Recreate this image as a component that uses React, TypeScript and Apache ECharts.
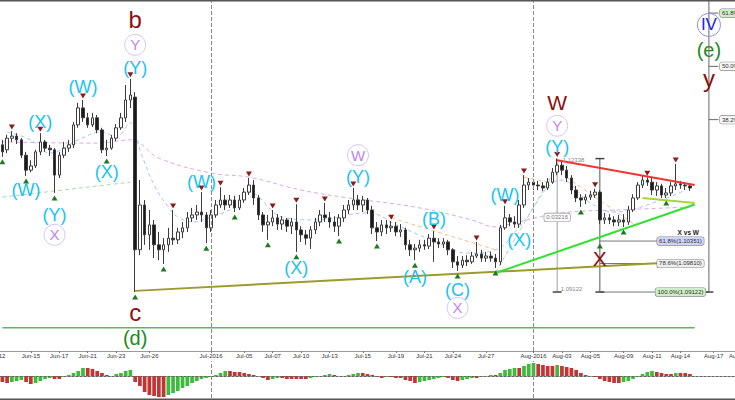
import React, { useEffect, useRef } from 'react';
import * as echarts from 'echarts';

const FONT = '"Liberation Sans", Arial, sans-serif';

// EUR/USD, one candle per slot: [open, close, low, high]
const candles = [
[1.1267,1.1250,1.1238,1.1279],[1.1255,1.1283,1.1247,1.1291],[1.1283,1.1288,1.1274,1.1300],[1.1288,1.1279,1.1269,1.1295],[1.1279,1.1242,1.1235,1.1283],
[1.1242,1.1206,1.1192,1.1250],[1.1206,1.1216,1.1201,1.1230],[1.1216,1.1250,1.1211,1.1255],[1.1250,1.1274,1.1242,1.1295],[1.1274,1.1259,1.1250,1.1279],
[1.1259,1.1255,1.1240,1.1267],[1.1255,1.1194,1.1151,1.1259],[1.1194,1.1242,1.1187,1.1250],[1.1242,1.1259,1.1235,1.1274],[1.1259,1.1267,1.1250,1.1279],
[1.1267,1.1315,1.1259,1.1322],[1.1315,1.1356,1.1308,1.1368],[1.1356,1.1332,1.1322,1.1375],[1.1332,1.1315,1.1308,1.1344],[1.1315,1.1332,1.1310,1.1344],
[1.1332,1.1303,1.1295,1.1339],[1.1303,1.1255,1.1247,1.1308],[1.1255,1.1259,1.1240,1.1279],[1.1259,1.1283,1.1255,1.1291],[1.1283,1.1308,1.1276,1.1317],
[1.1308,1.1332,1.1303,1.1344],[1.1332,1.1375,1.1322,1.1411],[1.1375,1.1387,1.1356,1.1426],[1.1382,1.1014,1.0912,1.1394],[1.1014,1.1122,1.1001,1.1182],
[1.1122,1.1050,1.1026,1.1134],[1.1050,1.1074,1.1014,1.1110],[1.1074,1.1026,1.0994,1.1086],[1.1026,1.1014,1.0989,1.1057],[1.1014,1.1026,1.0980,1.1042],
[1.1026,1.1042,1.1009,1.1067],[1.1042,1.1038,1.1026,1.1110],[1.1038,1.1057,1.1028,1.1067],[1.1057,1.1067,1.1042,1.1081],[1.1067,1.1091,1.1057,1.1105],
[1.1091,1.1098,1.1081,1.1115],[1.1098,1.1105,1.1086,1.1122],[1.1105,1.1098,1.1081,1.1153],[1.1098,1.1067,1.1030,1.1105],[1.1067,1.1098,1.1057,1.1110],
[1.1098,1.1122,1.1091,1.1134],[1.1122,1.1134,1.1115,1.1165],[1.1134,1.1122,1.1110,1.1146],[1.1122,1.1134,1.1115,1.1146],[1.1134,1.1115,1.1105,1.1144],
[1.1115,1.1134,1.1110,1.1146],[1.1134,1.1153,1.1127,1.1163],[1.1153,1.1170,1.1146,1.1187],[1.1170,1.1139,1.1122,1.1182],[1.1139,1.1098,1.1086,1.1146],
[1.1098,1.1074,1.1057,1.1105],[1.1074,1.1081,1.1038,1.1098],[1.1081,1.1091,1.1071,1.1110],[1.1091,1.1076,1.1062,1.1100],[1.1076,1.1086,1.1062,1.1095],
[1.1086,1.1071,1.1057,1.1091],[1.1071,1.1081,1.1052,1.1091],[1.1081,1.1062,1.1009,1.1124],[1.1062,1.1050,1.1033,1.1071],[1.1050,1.1042,1.1026,1.1062],
[1.1042,1.1062,1.1016,1.1071],[1.1062,1.1081,1.1052,1.1091],[1.1081,1.1098,1.1071,1.1110],[1.1098,1.1091,1.1081,1.1127],[1.1091,1.1081,1.1067,1.1105],
[1.1081,1.1071,1.1057,1.1095],[1.1071,1.1091,1.1047,1.1100],[1.1091,1.1110,1.1081,1.1122],[1.1110,1.1122,1.1100,1.1134],[1.1122,1.1134,1.1110,1.1163],
[1.1134,1.1122,1.1110,1.1146],[1.1122,1.1134,1.1105,1.1144],[1.1134,1.1110,1.1100,1.1139],[1.1110,1.1067,1.1052,1.1120],[1.1067,1.1057,1.1035,1.1081],
[1.1057,1.1074,1.1047,1.1086],[1.1074,1.1067,1.1052,1.1086],[1.1067,1.1071,1.1057,1.1083],[1.1071,1.1057,1.1047,1.1081],[1.1057,1.1062,1.1045,1.1076],
[1.1062,1.1026,1.1014,1.1067],[1.1026,1.1014,1.0999,1.1038],[1.1014,1.1018,1.0989,1.1028],[1.1018,1.1026,1.1009,1.1038],[1.1026,1.1023,1.1014,1.1038],
[1.1023,1.1042,1.1016,1.1052],[1.1042,1.1033,1.0985,1.1059],[1.1033,1.1028,1.1018,1.1042],[1.1028,1.1033,1.1018,1.1042],[1.1033,1.1014,1.1001,1.1038],
[1.1014,1.0985,1.0970,1.1018],[1.0985,1.0977,1.0963,1.0999],[1.0977,1.0989,1.0970,1.0999],[1.0989,1.0985,1.0975,1.1001],[1.0985,1.0999,1.0980,1.1009],
[1.0999,1.1004,1.0994,1.1033],[1.1004,1.0994,1.0985,1.1014],[1.0994,1.0999,1.0985,1.1009],[1.0999,1.0994,1.0985,1.1009],[1.0994,1.0985,1.0970,1.1004],
[1.0985,1.1067,1.0977,1.1074],[1.1067,1.1091,1.1062,1.1120],[1.1091,1.1081,1.1071,1.1100],[1.1081,1.1076,1.1067,1.1095],[1.1076,1.1122,1.1067,1.1134],
[1.1122,1.1170,1.1115,1.1194],[1.1170,1.1177,1.1158,1.1187],[1.1177,1.1170,1.1158,1.1182],[1.1170,1.1168,1.1158,1.1180],[1.1168,1.1163,1.1156,1.1177],
[1.1163,1.1177,1.1158,1.1187],[1.1177,1.1201,1.1173,1.1211],[1.1201,1.1218,1.1194,1.1234],[1.1218,1.1206,1.1194,1.1226],[1.1206,1.1187,1.1177,1.1216],
[1.1187,1.1158,1.1148,1.1194],[1.1158,1.1139,1.1129,1.1168],[1.1139,1.1134,1.1117,1.1148],[1.1134,1.1141,1.1124,1.1148],[1.1141,1.1146,1.1134,1.1156],
[1.1146,1.1153,1.1139,1.1161],[1.1153,1.1086,1.1076,1.1158],[1.1086,1.1091,1.1076,1.1103],[1.1091,1.1086,1.1076,1.1100],[1.1086,1.1081,1.1071,1.1095],
[1.1081,1.1086,1.1071,1.1098],[1.1086,1.1081,1.1069,1.1100],[1.1081,1.1110,1.1074,1.1120],[1.1110,1.1139,1.1105,1.1148],[1.1139,1.1170,1.1134,1.1177],
[1.1170,1.1182,1.1163,1.1192],[1.1182,1.1177,1.1168,1.1189],[1.1177,1.1158,1.1146,1.1187],[1.1158,1.1168,1.1144,1.1177],[1.1168,1.1146,1.1139,1.1173],
[1.1146,1.1151,1.1139,1.1163],[1.1151,1.1168,1.1144,1.1177],[1.1168,1.1173,1.1158,1.1221],[1.1173,1.1170,1.1161,1.1180],[1.1170,1.1168,1.1158,1.1177],
[1.1168,1.1163,1.1156,1.1173],
];

// oscillator histogram
const osma = [
-0.0006,-0.0007,-0.0006,-0.0005,-0.0004,-0.0006,-0.0008,-0.0007,-0.0005,-0.0003,
-0.0002,-0.0003,-0.0003,-0.0001,0.0001,0.0003,0.0005,0.0008,0.0008,0.0007,
0.0005,0.0003,0.0001,0.0000,0.0002,0.0003,0.0005,0.0006,-0.0006,-0.0010,
-0.0016,-0.0019,-0.0020,-0.0021,-0.0021,-0.0019,-0.0017,-0.0015,-0.0012,-0.0010,
-0.0007,-0.0005,-0.0003,-0.0002,-0.0001,0.0001,0.0003,0.0005,0.0005,0.0004,
0.0004,0.0003,0.0002,0.0001,0.0000,-0.0002,-0.0004,-0.0003,-0.0002,-0.0002,
-0.0003,-0.0003,-0.0003,-0.0003,-0.0003,-0.0002,-0.0001,0.0000,0.0001,0.0002,
0.0001,0.0000,0.0000,0.0001,0.0002,0.0003,0.0003,0.0002,0.0001,-0.0001,
-0.0002,-0.0001,-0.0001,-0.0002,-0.0002,-0.0004,-0.0005,-0.0007,-0.0006,-0.0005,
-0.0004,-0.0003,-0.0002,-0.0001,-0.0002,-0.0004,-0.0005,-0.0004,-0.0003,-0.0002,
-0.0002,-0.0001,0.0000,0.0001,0.0001,0.0003,0.0006,0.0007,0.0008,0.0008,
0.0010,0.0012,0.0013,0.0012,0.0011,0.0010,0.0010,0.0011,0.0010,0.0009,
0.0008,0.0006,0.0003,0.0001,0.0000,-0.0001,-0.0003,-0.0005,-0.0006,-0.0007,
-0.0007,-0.0006,-0.0005,-0.0003,-0.0001,0.0002,0.0004,0.0005,0.0004,0.0003,
0.0002,0.0002,0.0003,0.0003,0.0003,0.0002,
];

const slotCount = 155;
const tickSlots = [6,12,18,24,31,44,51,57,63,69,76,83,89,95,102,112,118,124,131,137,143,150];
const tickLabels = ['Jun-15','Jun-17','Jun-21','Jun-23','Jun-26','Jul-2016','Jul-05','Jul-07','Jul-10','Jul-13','Jul-15','Jul-19','Jul-21','Jul-24','Jul-27','Aug-2016','Aug-03','Aug-05','Aug-09','Aug-11','Aug-14','Aug-17'];
const monthSlots = [44, 112];

const highMarks = [2,8,17,27,36,42,46,52,57,62,68,74,82,91,100,106,110,117,125,136,142];
const lowMarks = [0,5,11,22,28,34,43,49,56,62,71,79,87,96,104,122,131,140];

const slowMA = [[0,1.1274],[20,1.1271],[27,1.1279],[33,1.1235],[44,1.1199],[52,1.1189],[63,1.1158],[73,1.1139],[87,1.1117],[99,1.1086],[104,1.1069],[108,1.1079],[118,1.1103],[130,1.1110],[145,1.1117]];
const fastMA = [[1,1.1298],[6,1.1279],[10,1.1247],[16,1.1279],[21,1.1298],[24,1.1286],[27,1.1320],[29,1.1255],[32,1.1170],[35,1.1117],[37,1.1093],[40,1.1081],[44,1.1093],[49,1.1117],[52,1.1153],[59,1.1093],[66,1.1086],[77,1.1103],[84,1.1069],[92,1.1030],[98,1.1006],[104,1.1014],[109,1.1069],[118,1.1182],[124,1.1127],[129,1.1105],[139,1.1134],[144,1.1158]];
const orangeSegs = [[[82,1.1091],[104,1.1014]],[[110,1.1189],[115,1.1177]],[[119,1.1189],[134,1.1069]]];
const greenDashed = [[[0,1.1141],[27,1.1177]],[[104,1.0960],[117,1.1214]]];

const oliveLine = [[28,1.0915],[139,1.0982]];
const supportLine = [[104,1.0958],[146,1.1123]];
const resistLine = [[117,1.1230],[146,1.1170]];
const innerLine = [[135,1.1139],[146,1.1127]];
const dLine = [[0,1.0826],[146,1.0826]];

const majorLabels = [[28,1.1568,'b'],[28,1.0862,'c'],[149,1.1428,'y']];
const majorLabels2 = [[117,1.1370,'W'],[126,1.0994,'X']];
const interLabels = [[28,1.1452,'(Y)'],[17,1.1406,'(W)'],[8,1.1322,'(X)'],[22,1.1201,'(X)'],[5,1.1158,'(W)'],[11,1.1098,'(Y)'],[42,1.1177,'(W)'],[62,1.0970,'(X)'],[75,1.1189,'(Y)'],[91,1.1088,'(B)'],[87,1.0948,'(A)'],[96,1.0917,'(C)'],[106,1.1146,'(W)'],[109,1.1038,'(X)'],[117,1.1261,'(Y)']];
const circledLabels = [[28,1.1508,'Y'],[11,1.1050,'X'],[75,1.1242,'W'],[96,1.0874,'X'],[117,1.1313,'Y']];
const primaryLabels = [[28,1.0801,'(d)'],[149,1.1496,'(e)']];
const cycleLabels = [[149,1.1556,'IV']];

const wHigh = 1.12338;
const wLow = 1.09122;
const wSlot = 117;
const xSlot = 126;
const fibEndSlot = 139;
const fibLabelSlot = 143;
const fibW = [['61.8%',1.10351],['78.6%',1.09810],['100.0%',1.09122]];
const fibRightSlot = 149;
const fibRight = [['61.8%',1.15845],['50.0%',1.14561],['38.2%',1.13277]];

export default function App() {
  const ref = useRef<HTMLDivElement>(null);
  useEffect(() => {
    const chart = echarts.init(ref.current!, null, { renderer: 'svg' });
    const categories = Array.from({ length: slotCount }, (_, i) => {
      const k = tickSlots.indexOf(i);
      return k >= 0 ? tickLabels[k] : 'slot' + i;
    });
    const showTick = (i: number) => tickSlots.includes(i);
    const clear = { color: 'rgba(0,0,0,0)', opacity: 1 };

    const line = (data: any[], color: string, width: number, type: any = 'solid', smooth: any = false, z = 3) => ({
      type: 'line', xAxisIndex: 0, yAxisIndex: 0, data, symbol: 'none', smooth, silent: true, z,
      lineStyle: { color, width, type, opacity: 1 }, clip: true,
    });
    const texts = (data: any[], color: string, size: number, z = 12) => ({
      type: 'scatter', xAxisIndex: 0, yAxisIndex: 0, silent: true, z,
      data: data.map(([i, p, t]) => ({ value: [i, p], name: t })),
      symbolSize: 1, itemStyle: clear,
      label: { show: true, position: 'inside', formatter: (q: any) => q.name, color, opacity: 1, fontSize: size, fontFamily: FONT },
    });
    const circles = (data: any[], color: string, ring: string, size: number, font: number) => ({
      type: 'scatter', xAxisIndex: 0, yAxisIndex: 0, silent: true, z: 12,
      data: data.map(([i, p, t]) => ({ value: [i, p], name: t })),
      symbol: 'circle', symbolSize: size,
      itemStyle: { color: 'rgba(255,255,255,0)', borderColor: ring, borderWidth: 1, opacity: 1 },
      label: { show: true, position: 'inside', formatter: (q: any) => q.name, color, opacity: 1, fontSize: font, fontFamily: FONT },
    });

    const histData = osma.map((v, i) => ({
      value: v,
      itemStyle: { color: i > 0 && v > osma[i - 1] ? '#3dbb3d' : '#c43434' },
    }));

    const fibBg = ['#cdd4f4', '#eeeeee', '#cdeec6'];
    const fibRightBg = ['#cdeec6', '#f6f6f6', '#f6f6f6'];
    const boxLabel = (bg: string) => ({
      show: true, position: 'inside', formatter: (q: any) => q.name, fontSize: 6, fontFamily: FONT, color: '#333', opacity: 1,
      backgroundColor: bg, borderColor: '#8a8a8a', borderWidth: 0.6, borderRadius: 2, padding: [1, 2],
    });
    const plain = (extra: any) => ({ show: true, formatter: (q: any) => q.name, fontSize: 6, color: '#888', fontFamily: FONT, opacity: 1, ...extra });

    const series: any[] = [
      {
        type: 'candlestick', xAxisIndex: 0, yAxisIndex: 0, data: candles, barWidth: 3, z: 4, silent: true,
        itemStyle: { color: '#ffffff', color0: '#1a1a1a', borderColor: '#3c3c3c', borderColor0: '#3c3c3c', borderWidth: 1 },
        markLine: {
          silent: true, symbol: 'none', label: { show: false },
          lineStyle: { type: 'dashed', color: '#8a8a8a', width: 1 },
          data: monthSlots.map((s) => ({ xAxis: s })),
        },
      },
      line(slowMA, '#dca8e6', 1, [4, 3], 0.4, 2),
      line(fastMA, '#a9c6f3', 1, [4, 3], 0.4, 2),
      ...orangeSegs.map((s) => line(s, '#f4c08c', 1, [4, 3], false, 2)),
      ...greenDashed.map((s) => line(s, '#a6dca6', 1, [4, 3], false, 2)),
      line(dLine, '#5cb85c', 1.5),
      line(oliveLine, '#9b9b2e', 2, 'solid', false, 5),
      line(supportLine, '#2fe22f', 2, 'solid', false, 5),
      line(resistLine, '#f23434', 2, 'solid', false, 5),
      line(innerLine, '#a6d63a', 2, 'solid', false, 5),
      // fib tool X vs W
      line([[wSlot, wHigh], [wSlot, wLow]], '#a0a0a0', 1, 'solid', false, 3),
      line([[xSlot, wHigh], [xSlot, wLow]], '#555555', 1, 'solid', false, 3),
      ...fibW.map(([, v], k) => line([[xSlot, v], [k === 2 ? fibRightSlot : fibEndSlot, v]], '#777777', 1, 'solid', false, 3)),
      line([[fibRightSlot, 1.17], [fibRightSlot, wLow]], '#666666', 1, 'solid', false, 3),
      ...fibRight.map(([, v]) => line([[fibRightSlot, v], [fibRightSlot + 2, v]], '#666666', 1, 'solid', false, 3)),
      {
        type: 'scatter', xAxisIndex: 0, yAxisIndex: 0, silent: true, z: 6,
        data: [[wSlot, wLow], [xSlot, wHigh], [xSlot, wLow], [fibRightSlot, wLow]],
        symbol: 'rect', symbolSize: [9, 1.5], itemStyle: { color: '#444', opacity: 1 },
      },
      {
        type: 'scatter', xAxisIndex: 0, yAxisIndex: 0, silent: true, z: 8,
        data: fibW.map(([t, v], k) => ({ value: [fibLabelSlot, v], name: `${t}(${(v as number).toFixed(5)})`, label: boxLabel(fibBg[k]) })),
        symbolSize: 1, itemStyle: clear,
      },
      {
        type: 'scatter', xAxisIndex: 0, yAxisIndex: 0, silent: true, z: 8,
        data: fibRight.map(([t, v], k) => ({ value: [fibRightSlot + 2, v], name: `${t}(${(v as number).toFixed(5)})`, label: { ...boxLabel(fibRightBg[k]), position: 'right', distance: 1 } })),
        symbolSize: 1, itemStyle: clear,
      },
      {
        type: 'scatter', xAxisIndex: 0, yAxisIndex: 0, silent: true, z: 13,
        data: [
          { value: [wSlot, (wHigh + wLow) / 2 + 0.0019], name: (wHigh - wLow).toFixed(5), label: { ...boxLabel('#ffffff'), color: '#777' } },
          { value: [wSlot, wHigh], name: wHigh.toFixed(5), label: plain({ position: 'right', distance: 5, offset: [0, 1] }) },
          { value: [wSlot, wLow], name: wLow.toFixed(5), label: plain({ position: 'right', distance: 3, offset: [0, -3] }) },
          { value: [147, 1.1055], name: 'X vs W', label: plain({ position: 'left', distance: 0, fontSize: 6.5, fontWeight: 'bold', color: '#222' }) },
        ],
        symbolSize: 1, itemStyle: clear,
      },
      {
        type: 'scatter', xAxisIndex: 0, yAxisIndex: 0, silent: true, z: 7,
        data: highMarks.map((i) => [i, candles[i][3]]),
        symbol: 'triangle', symbolRotate: 180, symbolSize: [6, 5], symbolOffset: [0, -4],
        itemStyle: { color: '#8c1c1c', opacity: 1 },
      },
      {
        type: 'scatter', xAxisIndex: 0, yAxisIndex: 0, silent: true, z: 7,
        data: [...lowMarks.map((i) => [i, candles[i][2]]), [xSlot, fibW[0][1]]],
        symbol: 'triangle', symbolSize: [6, 5], symbolOffset: [0, 5],
        itemStyle: { color: '#1f7a1f', opacity: 1 },
      },
      texts(majorLabels, '#8b1010', 24),
      texts(majorLabels2, '#8b1010', 21),
      texts(interLabels, '#18c2f5', 18),
      texts(primaryLabels, '#228b22', 20),
      circles(circledLabels, '#c084f0', '#dcc3f6', 21, 15),
      circles(cycleLabels, '#1c1ce6', '#8f8ff5', 23, 17),
      {
        type: 'bar', xAxisIndex: 1, yAxisIndex: 1, data: histData, barWidth: '78%', silent: true,
        markLine: {
          silent: true, symbol: 'none', label: { show: false },
          data: [
            { yAxis: 0, lineStyle: { type: [2, 2], color: '#666', width: 1 } },
            ...monthSlots.map((s) => ({ xAxis: s, lineStyle: { type: 'dashed', color: '#8a8a8a', width: 1 } })),
          ],
        },
      },
    ];

    chart.setOption({
      animation: false,
      backgroundColor: '#ffffff',
      textStyle: { fontFamily: FONT },
      grid: [
        { left: 0, right: 0, top: 1, height: 350, containLabel: false, outerBoundsMode: 'none' },
        { left: 0, right: 0, top: 361, height: 37, containLabel: false, outerBoundsMode: 'none' },
      ],
      xAxis: [
        {
          type: 'category', gridIndex: 0, data: categories, boundaryGap: true,
          axisLine: { show: true, lineStyle: { color: '#9a9a9a', width: 1 } },
          axisTick: { show: true, interval: (i: number) => showTick(i), alignWithLabel: true, length: 2, lineStyle: { color: '#777' } },
          axisLabel: {
            show: true, interval: (i: number) => showTick(i), formatter: (v: string) => (v.startsWith('slot') ? '' : v),
            fontSize: 6, color: '#333', margin: 2, fontFamily: FONT,
          },
          splitLine: { show: false },
        },
        {
          type: 'category', gridIndex: 1, data: categories, boundaryGap: true, position: 'top',
          axisLine: { show: true, lineStyle: { color: '#9a9a9a', width: 1 } },
          axisTick: { show: false }, axisLabel: { show: false }, splitLine: { show: false },
        },
      ],
      yAxis: [
        { type: 'value', gridIndex: 0, min: 1.07701, max: 1.16136, show: false, splitLine: { show: false } },
        { type: 'value', gridIndex: 1, min: -0.0022, max: 0.0015, show: false, splitLine: { show: false } },
      ],
      graphic: [
        { type: 'line', shape: { x1: 0, y1: 0.7, x2: 735, y2: 0.7 }, style: { stroke: '#555', lineWidth: 1.5 }, silent: true },
        { type: 'line', shape: { x1: 0, y1: 399.2, x2: 735, y2: 399.2 }, style: { stroke: '#555', lineWidth: 1.5 }, silent: true },
        { type: 'text', left: -13, top: 353, style: { text: 'Jun-12', fontSize: 6, fill: '#333', fontFamily: FONT }, silent: true },
        { type: 'text', left: 729, top: 353, style: { text: 'Aug-19', fontSize: 6, fill: '#333', fontFamily: FONT }, silent: true },
      ],
      series,
    });
    return () => chart.dispose();
  }, []);
  return <div ref={ref} style={{ position: 'fixed', left: 0, top: 0, width: 735, height: 400, background: '#fff' }} />;
}
